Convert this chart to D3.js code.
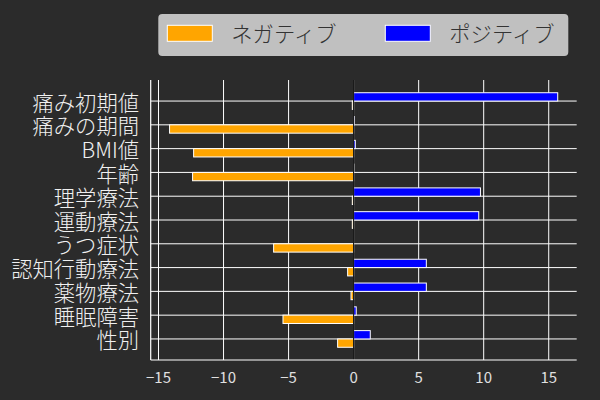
<!DOCTYPE html>
<html>
<head>
<meta charset="utf-8">
<script src="https://cdn.jsdelivr.net/npm/d3@7"></script>
<style>
  body { margin: 0; background: #2b2b2b; }
  svg { display: block; }
</style>
</head>
<body>
<svg id="chart" width="600" height="400"></svg>
<script>
// Factors and their negative / positive effect sizes
const labels = ["痛み初期値", "痛みの期間", "BMI値", "年齢", "理学療法", "運動療法",
  "うつ症状", "認知行動療法", "薬物療法", "睡眠障害", "性別"];
const negative = [-0.1, -14.15, -12.3, -12.38, -0.1, -0.1, -6.15, -0.46, -0.2, -5.43, -1.23];
const positive = [15.69, 0.05, 0.13, 0.02, 9.75, 9.62, 0.0, 5.59, 5.59, 0.2, 1.28];
const xTicks = [-15, -10, -5, 0, 5, 10, 15];
const seriesNames = ["ネガティブ", "ポジティブ"];
const seriesColors = ["#ffa500", "#0000ff"];

const font = "'Noto Sans CJK JP', 'Noto Sans', sans-serif";
// plot area edges
const plotLeft = 150.7, plotRight = 576.7, plotTop = 80, plotBottom = 360;
const barH = 0.35;

const svg = d3.select("#chart");

const x = d3.scaleLinear().domain([-15.6, 17.15]).range([plotLeft, plotRight]);
const y = d3.scaleLinear().domain([-0.885, labels.length - 1 + 0.885]).range([plotTop, plotBottom]);

// grid
svg.append("g")
  .selectAll("line")
  .data(xTicks)
  .join("line")
  .attr("x1", (d) => x(d)).attr("x2", (d) => x(d))
  .attr("y1", plotTop).attr("y2", plotBottom)
  .attr("stroke", "#ffffff").attr("stroke-width", 1);

svg.append("g")
  .selectAll("line")
  .data(labels)
  .join("line")
  .attr("x1", plotLeft).attr("x2", plotRight)
  .attr("y1", (d, i) => y(i)).attr("y2", (d, i) => y(i))
  .attr("stroke", "#ffffff").attr("stroke-width", 1);

// negative bars sit below the category line, positive ones above
svg.append("g")
  .selectAll("rect")
  .data(negative)
  .join("rect")
  .attr("x", (d) => x(Math.min(d, 0)))
  .attr("width", (d) => Math.abs(x(d) - x(0)))
  .attr("y", (d, i) => y(i))
  .attr("height", y(barH) - y(0))
  .attr("fill", seriesColors[0])
  .attr("stroke", "#ffffff").attr("stroke-width", 1);

svg.append("g")
  .selectAll("rect")
  .data(positive)
  .join("rect")
  .attr("x", x(0))
  .attr("width", (d) => Math.abs(x(d) - x(0)))
  .attr("y", (d, i) => y(i - barH))
  .attr("height", y(barH) - y(0))
  .attr("fill", seriesColors[1])
  .attr("stroke", "#ffffff").attr("stroke-width", 1);

// zero line
svg.append("line")
  .attr("x1", x(0)).attr("x2", x(0))
  .attr("y1", plotTop).attr("y2", plotBottom)
  .attr("stroke", "#000000").attr("stroke-width", 1);

// spines
svg.append("line")
  .attr("x1", plotLeft).attr("x2", plotLeft).attr("y1", plotTop).attr("y2", plotBottom)
  .attr("stroke", "#ffffff").attr("stroke-width", 1.2);
svg.append("line")
  .attr("x1", plotLeft).attr("x2", plotRight).attr("y1", plotBottom).attr("y2", plotBottom)
  .attr("stroke", "#ffffff").attr("stroke-width", 1.2);

// tick labels
svg.append("g")
  .selectAll("text")
  .data(xTicks)
  .join("text")
  .attr("x", (d) => x(d))
  .attr("y", 376)
  .attr("text-anchor", "middle")
  .attr("dominant-baseline", "central")
  .attr("font-family", font)
  .attr("font-size", 15)
  .attr("fill", "#e0e0e0")
  .text((d) => (d < 0 ? "\u2212" + Math.abs(d) : d));

svg.append("g")
  .selectAll("text")
  .data(labels)
  .join("text")
  .attr("x", 139)
  .attr("y", (d, i) => y(i))
  .attr("text-anchor", "end")
  .attr("dominant-baseline", "central")
  .attr("font-family", font)
  .attr("font-weight", 300)
  .attr("font-size", 21.3)
  .attr("fill", "#f0f0f0")
  .text((d) => d);

// legend
const legend = svg.append("g");
legend.append("rect")
  .attr("x", 158.3).attr("y", 14)
  .attr("width", 410).attr("height", 42)
  .attr("rx", 4)
  .attr("fill", "#c0c0c0");

const items = legend.selectAll("g")
  .data(seriesNames)
  .join("g")
  .attr("transform", (d, i) => `translate(${167.3 + i * 218}, 0)`);

items.append("rect")
  .attr("x", 0).attr("y", 25.3)
  .attr("width", 45).attr("height", 16)
  .attr("fill", (d, i) => seriesColors[i])
  .attr("stroke", "#ffffff").attr("stroke-width", 1);

items.append("text")
  .attr("x", 64).attr("y", 32)
  .attr("dominant-baseline", "central")
  .attr("font-family", font)
  .attr("font-weight", 300)
  .attr("font-size", 21.3)
  .attr("fill", "#333333")
  .text((d) => d);
</script>
</body>
</html>
